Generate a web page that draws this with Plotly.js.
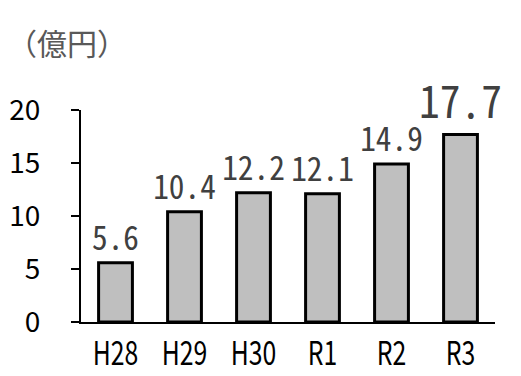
<!DOCTYPE html>
<html>
<head>
<meta charset="utf-8">
<script src="https://cdn.plot.ly/plotly-3.0.1.min.js"></script>
<style>html,body{margin:0;padding:0;background:#fff;}#chart{width:521px;height:376px;}</style>
</head>
<body>
<div id="chart"></div>
<script>
const categories = ["H28", "H29", "H30", "R1", "R2", "R3"];
const values = [5.6, 10.4, 12.2, 12.1, 14.9, 17.7];
const yTicks = [0, 5, 10, 15, 20];
const unitLabel = "（億円）";

const labels = values.map(v => v.toFixed(1));
const labelSizes = values.map((v, i) => i === values.length - 1 ? 45 : 34);

const trace = {
  type: 'bar',
  x: categories,
  y: values,
  text: labels,
  textposition: 'outside',
  constraintext: 'none',
  cliponaxis: false,
  textfont: {family: '"Noto Sans Mono CJK JP", "Noto Sans CJK JP", monospace', size: labelSizes, color: '#404040'},
  marker: {color: '#bfbfbf', line: {color: '#000000', width: 3}},
  hoverinfo: 'none'
};

const layout = {
  width: 521, height: 376,
  margin: {l: 81, r: 26, t: 110, b: 54, pad: 0},
  paper_bgcolor: '#ffffff', plot_bgcolor: '#ffffff',
  showlegend: false,
  bargap: 0.51,
  xaxis: {
    type: 'category',
    showline: true, linecolor: '#000000', linewidth: 1.5,
    ticks: '', showgrid: false, zeroline: false,
    tickfont: {family: '"Noto Sans CJK JP", sans-serif', size: 33, color: '#000000'},
    ticklabelstandoff: 2
  },
  yaxis: {
    range: [0, 20],
    tickvals: yTicks,
    showline: true, linecolor: '#000000', linewidth: 2,
    ticks: 'outside', ticklen: 8, tickwidth: 2, tickcolor: '#000000',
    showgrid: false, zeroline: false,
    tickfont: {family: '"Noto Sans CJK JP", sans-serif', size: 28, color: '#000000'},
    ticklabelstandoff: 25
  },
  shapes: [{
    type: 'line', xref: 'paper', yref: 'y',
    x0: -8 / 414, x1: 0, y0: 0, y1: 0,
    line: {color: '#000000', width: 1.5}
  }],
  annotations: [{
    text: unitLabel, xref: 'paper', yref: 'paper',
    x: -76 / 414, y: 1 + 68 / 212, xanchor: 'left', yanchor: 'middle',
    showarrow: false,
    font: {family: '"Noto Sans CJK JP", sans-serif', size: 30, color: '#595959'}
  }]
};

function condense(selector, factor) {
  document.querySelectorAll(selector).forEach(el => {
    const w = el.getComputedTextLength();
    el.setAttribute('textLength', (w * factor).toFixed(1));
    el.setAttribute('lengthAdjust', 'spacingAndGlyphs');
  });
}

Plotly.newPlot('chart', [trace], layout, {displayModeBar: false, staticPlot: true}).then(() => {
  condense('.xtick text', 0.75);
  condense('.bartext', 0.92);
});
</script>
</body>
</html>
